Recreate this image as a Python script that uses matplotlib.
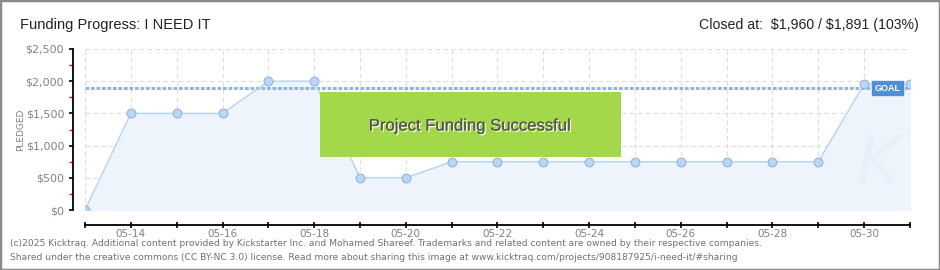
import matplotlib.pyplot as plt
from matplotlib.patches import Rectangle
import matplotlib.patheffects as pe

# data
days = ["05-13", "05-14", "05-15", "05-16", "05-17", "05-18", "05-19", "05-20",
        "05-21", "05-22", "05-23", "05-24", "05-25", "05-26", "05-27", "05-28",
        "05-29", "05-30", "05-31"]
pledged = [0, 1500, 1500, 1500, 2000, 2000, 500, 500,
           750, 750, 750, 750, 750, 750, 750, 750,
           750, 1960, 1960]
goal = 1891
y_ticks = [0, 500, 1000, 1500, 2000, 2500]
y_labels = ["$0", "$500", "$1,000", "$1,500", "$2,000", "$2,500"]

W, H = 940, 270
fig = plt.figure(figsize=(W / 100, H / 100), dpi=100)
fig.patch.set_facecolor("white")
narrow = ["Liberation Sans", "DejaVu Sans"]

# outer border
fig.patches.append(Rectangle((0, 0), 1, 1, transform=fig.transFigure, fill=False,
                             edgecolor="#8a8a8a", linewidth=2.5))

ax = fig.add_axes([85 / W, 1 - 210 / H, (910 - 85) / W, (210 - 49) / H])
x = list(range(len(days)))

ax.fill_between(x, pledged, 0, color="#edf4fc", zorder=1)
ax.plot(x, pledged, color="#b5d3f2", linewidth=1, zorder=3)
ax.scatter(x, pledged, s=40, color="#bcd7f4", edgecolor="#93b4dc", linewidth=0.8, zorder=4)

# faint watermark
ax.text(17.3, 700, "K", fontsize=48, style="italic", color="#e7eff9",
        ha="center", va="center", zorder=2)

# goal line
ax.axhline(goal, color="#8fb4e3", linewidth=2.2, linestyle=(0, (1.2, 0.6)), zorder=2)
ax.text(17.22, goal, "GOAL", color="white", fontsize=6.5, fontweight="bold",
        ha="left", va="center", zorder=6, family=narrow,
        bbox=dict(boxstyle="square,pad=0.3", facecolor="#4f8fd8", edgecolor="#4f8fd8"))

# success banner
ax.add_patch(Rectangle((5.13, 823), 6.57, 1009, facecolor="#a3d84b", edgecolor="none",
                       zorder=5))
ax.text(8.4, 1304, "Project Funding Successful", fontsize=12, color="#555555",
        ha="center", va="center", zorder=6, family=narrow,
        path_effects=[pe.withSimplePatchShadow(offset=(1, -1), shadow_rgbFace="white", alpha=0.9),
                      pe.Normal()])

ax.set_xlim(0, len(days) - 1)
ax.set_ylim(0, 2500)
ax.set_yticks(y_ticks)
ax.set_yticklabels(y_labels)
ax.set_yticks([250, 750, 1250, 1750, 2250], minor=True)
ax.set_xticks(x)
ax.set_xticklabels([d if i % 2 == 1 else "" for i, d in enumerate(days)])

ax.grid(True, color="#dddddd", linestyle=(0, (4, 3)), linewidth=0.8)
ax.set_axisbelow(True)

for s in ["top", "right"]:
    ax.spines[s].set_visible(False)
ax.spines["left"].set_position(("outward", 9))
ax.spines["bottom"].set_position(("outward", 11))
ax.spines["left"].set_linewidth(1.3)
ax.spines["bottom"].set_linewidth(1.3)
ax.tick_params(axis="y", which="major", length=3, width=1.2, labelsize=8,
               labelcolor="#808080", pad=3)
ax.tick_params(axis="x", which="major", direction="inout", length=5, width=1.2,
               labelsize=7.5, labelcolor="#808080", pad=0)
ax.tick_params(axis="y", which="minor", length=3, width=1, color="#e01010")
ax.set_ylabel("PLEDGED", fontsize=6.5, color="#808080")
ax.yaxis.set_label_coords(-0.073, 0.5)

fig.text(20 / W, 1 - 25 / H, "Funding Progress: I NEED IT", fontsize=10.5,
         color="#222222", ha="left", va="center", family=narrow)
fig.text(919 / W, 1 - 25 / H, "Closed at:  \\$1,960 / \\$1,891 (103%)", fontsize=10.2,
         color="#222222", ha="right", va="center", family=narrow)

fig.text(10 / W, 1 - 243 / H,
         "(c)2025 Kicktraq. Additional content provided by Kickstarter Inc. and Mohamed Shareef. "
         "Trademarks and related content are owned by their respective companies.",
         fontsize=6.6, color="#707070", ha="left", va="center")
fig.text(10 / W, 1 - 257 / H,
         "Shared under the creative commons (CC BY-NC 3.0) license. Read more about sharing this "
         "image at www.kicktraq.com/projects/908187925/i-need-it/#sharing",
         fontsize=6.6, color="#707070", ha="left", va="center")

fig.savefig("out.png", dpi=100)
